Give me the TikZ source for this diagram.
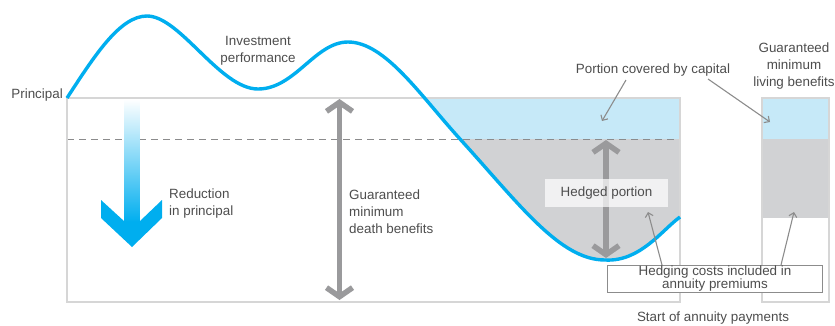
\documentclass[tikz,border=0pt]{standalone}
\usepackage{fontspec}
\setmainfont{Liberation Sans}
\usetikzlibrary{arrows.meta,calc}
\definecolor{cyanc}{HTML}{00AEEF}
\definecolor{lblue}{HTML}{C6E9F8}
\definecolor{gfill}{HTML}{D1D2D4}
\definecolor{boxc}{HTML}{D6D6D6}
\definecolor{garrow}{HTML}{9A9A9C}
\definecolor{txt}{HTML}{4D4D4D}
\definecolor{thinc}{HTML}{8C8C8C}
\def\curvepath{(67,98) .. controls (95,55) and (120,16) .. (147,16)
  .. controls (180,16) and (220,89) .. (258,89)
  .. controls (295,89) and (315,42) .. (348,42)
  .. controls (385,42) and (420,95) .. (460,139)
  .. controls (520,205) and (560,260) .. (605,260)
  .. controls (640,262) and (662,230) .. (680,217)}
\begin{document}
\begin{tikzpicture}[x=1pt,y=-1pt,
  lbl/.style={font=\fontsize{13.4}{17}\selectfont, text=txt, inner sep=0pt},
  frame/.style={draw=boxc,line width=2.5pt},
  guide/.style={draw=garrow!90!black,line width=1pt,dash pattern=on 7pt off 5pt},
  bigarrow/.style={draw=garrow,line width=5.5pt,
    {Straight Barb[length=9pt,width=26pt]}-{Straight Barb[length=9pt,width=26pt]}},
  note/.style={draw=thinc,line width=1.1pt,-{Straight Barb[length=4pt,width=8pt]}},
  curvestyle/.style={draw=cyanc,line width=3.4pt}]
\useasboundingbox (0,0) rectangle (835,325);
% region fills
\begin{scope}
  \clip \curvepath -- (680,0) -- (67,0) -- cycle;
  \fill[lblue] (67,98) rectangle (680,139);
  \fill[gfill] (67,139) rectangle (680,302);
\end{scope}
\fill[lblue] (762,98) rectangle (829,139);
\fill[gfill] (762,139) rectangle (829,218);
% guide line and frames
\draw[guide] (67,139) -- (680,139);
\draw[frame] (67,98) rectangle (680,302);
\draw[frame] (762,98) rectangle (829,302);
% investment curve
\draw[curvestyle] \curvepath;
% reduction arrow
\shade[top color=white, bottom color=cyanc] (124.5,99) rectangle (139.5,222);
\fill[cyanc] (101,200) -- (124.5,221.5) -- (139.5,221.5) -- (162,200)
  -- (162,218) -- (132,247) -- (101,218) -- cycle;
% gray double arrows
\coordinate (gA) at (339.5,99);
\coordinate (gB) at (339.5,300);
\draw[bigarrow] (gA) -- (gB);
\coordinate (hA) at (606,140);
\coordinate (hB) at (606,258);
\draw[bigarrow] (hA) -- (hB);
% labels
\node[lbl, anchor=east] (principal) at (63,95) {Principal};
\node[lbl, align=center] (invest) at (258,51) {Investment\\performance};
\node[lbl, align=left, anchor=west] (reduction) at (169,203.5) {Reduction\\in principal};
\node[lbl, align=left, anchor=west] (gmdb) at (349,212) {Guaranteed\\minimum\\death benefits};
\node[lbl] (pcc) at (653,70) {Portion covered by capital};
\node[lbl, align=center] (gmlb) at (794,66) {Guaranteed\\minimum\\living benefits};
\node[lbl, fill=white, fill opacity=0.7, text opacity=1, minimum width=123pt, minimum height=28pt] (hedged) at (606.5,193) {Hedged portion};
\node[lbl, draw=thinc, line width=0.8pt, fill=white, minimum width=215pt, minimum height=27pt, align=center, font=\fontsize{13.4}{11}\selectfont] (hcosts) at (715,278.5) {Hedging costs included in\\annuity premiums};
\node[lbl] (start) at (713,318) {Start of annuity payments};
% annotation arrows
\coordinate (a1s) at (626,80);  \coordinate (a1e) at (602,121);
\coordinate (a2s) at (708,79);  \coordinate (a2e) at (770,122);
\coordinate (a3s) at (662,265); \coordinate (a3e) at (648,212);
\coordinate (a4s) at (781,265); \coordinate (a4e) at (794,212);
\draw[note] (a1s) -- (a1e);
\draw[note] (a2s) -- (a2e);
\draw[note] (a3s) -- (a3e);
\draw[note] (a4s) -- (a4e);
\end{tikzpicture}
\end{document}
